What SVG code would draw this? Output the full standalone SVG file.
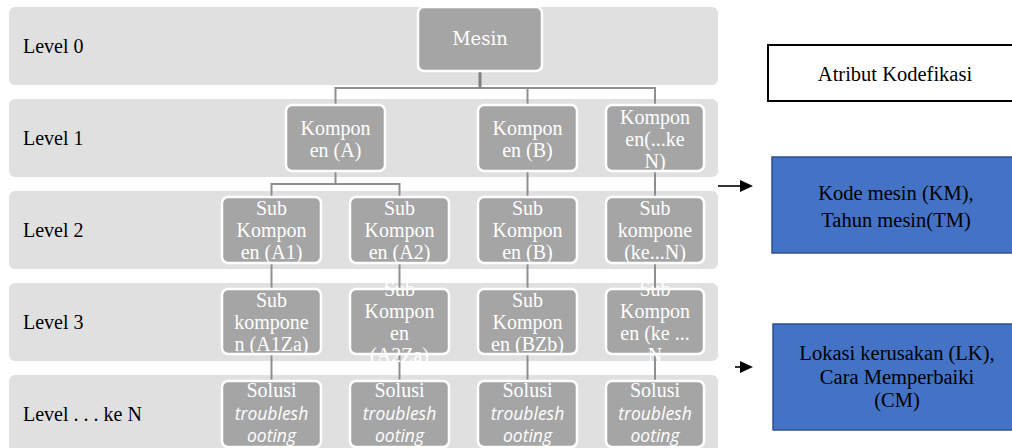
<svg xmlns="http://www.w3.org/2000/svg" width="1012" height="448" viewBox="0 0 1012 448">
<style>
.band{fill:#e0e0e0}
.lvl{font-family:'Liberation Serif','Times New Roman',Tinos,'DejaVu Serif',serif;font-size:20px;fill:#000}
.node rect{fill:#a5a5a5;stroke:#ffffff;stroke-width:2.5}
.nt{font-family:'Liberation Serif','Times New Roman',Tinos,'DejaVu Serif',serif;font-size:20px;fill:#ffffff;text-anchor:middle}
.it{font-family:'Open Sans',sans-serif;font-style:italic;font-size:17.5px;fill:#ffffff;text-anchor:middle}
.mesin{font-family:'DejaVu Serif',serif;font-size:18px;fill:#ffffff;text-anchor:middle}
.conn{stroke:#8f8f8f;stroke-width:2;fill:none}
.rt{font-family:'Liberation Serif','Times New Roman',Tinos,'DejaVu Serif',serif;font-size:20.5px;fill:#000;text-anchor:middle}
.blue{fill:#4472c4;stroke:#2f528f;stroke-width:1.5}
</style>
<g id="bands">
<rect class="band" x="9" y="7" width="709" height="78" rx="6"/>
<rect class="band" x="9" y="99" width="709" height="78" rx="6"/>
<rect class="band" x="9" y="191" width="709" height="78" rx="6"/>
<rect class="band" x="9" y="283" width="709" height="78" rx="6"/>
<rect class="band" x="9" y="375" width="709" height="78" rx="6"/>
<text class="lvl" x="23" y="53">Level 0</text>
<text class="lvl" x="23" y="145">Level 1</text>
<text class="lvl" x="23" y="237">Level 2</text>
<text class="lvl" x="23" y="329">Level 3</text>
<text class="lvl" x="23" y="421">Level . . . ke N</text>
</g>
<g id="connectors">
<line x1="480" y1="71" x2="480" y2="88" stroke="#7f7f7f" stroke-width="3"/>
<path class="conn" d="M335.5,105 V88 H655 V105 M527.5,88 V105"/>
<path class="conn" d="M335.5,171 V184 M271.5,197 V184 H399.5 V197"/>
<path class="conn" d="M527.5,171 V197 M655,171 V197"/>
<path class="conn" d="M271.5,263 V289 M399.5,263 V289 M527.5,263 V289 M655,263 V289"/>
<path class="conn" d="M271.5,354 V381 M399.5,354 V381 M527.5,354 V381 M655,354 V381"/>
</g>
<g id="n-mesin" class="node"><rect x="418" y="7" width="124" height="64" rx="6"/><text class="mesin" x="480" y="45">Mesin</text></g>
<g id="n-kA" class="node"><rect x="286" y="105" width="99" height="66" rx="6"/><text class="nt" x="335.5" y="135">Kompon</text><text class="nt" x="335.5" y="157">en (A)</text></g>
<g id="n-kB" class="node"><rect x="478" y="105" width="99" height="66" rx="6"/><text class="nt" x="527.5" y="135">Kompon</text><text class="nt" x="527.5" y="157">en (B)</text></g>
<g id="n-kN" class="node"><rect x="606" y="105" width="98" height="66" rx="6"/><text class="nt" x="655" y="124">Kompon</text><text class="nt" x="655" y="146">en(...ke</text><text class="nt" x="655" y="168">N)</text></g>
<g id="n-sA1" class="node"><rect x="222" y="197" width="99" height="66" rx="6"/><text class="nt" x="271.5" y="215">Sub</text><text class="nt" x="271.5" y="237">Kompon</text><text class="nt" x="271.5" y="259">en (A1)</text></g>
<g id="n-sA2" class="node"><rect x="350" y="197" width="99" height="66" rx="6"/><text class="nt" x="399.5" y="215">Sub</text><text class="nt" x="399.5" y="237">Kompon</text><text class="nt" x="399.5" y="259">en (A2)</text></g>
<g id="n-sB" class="node"><rect x="478" y="197" width="99" height="66" rx="6"/><text class="nt" x="527.5" y="215">Sub</text><text class="nt" x="527.5" y="237">Kompon</text><text class="nt" x="527.5" y="259">en (B)</text></g>
<g id="n-sN" class="node"><rect x="606" y="197" width="98" height="66" rx="6"/><text class="nt" x="655" y="215">Sub</text><text class="nt" x="655" y="237">kompone</text><text class="nt" x="655" y="259">(ke...N)</text></g>
<g id="n-A1Za" class="node"><rect x="222" y="289" width="99" height="65" rx="6"/><text class="nt" x="271.5" y="307">Sub</text><text class="nt" x="271.5" y="329">kompone</text><text class="nt" x="271.5" y="351">n (A1Za)</text></g>
<g id="n-A2Za" class="node"><rect x="350" y="289" width="99" height="65" rx="6"/><text class="nt" x="399.5" y="296">Sub</text><text class="nt" x="399.5" y="318">Kompon</text><text class="nt" x="399.5" y="340">en</text><text class="nt" x="399.5" y="362">(A2Za)</text></g>
<g id="n-BZb" class="node"><rect x="478" y="289" width="99" height="65" rx="6"/><text class="nt" x="527.5" y="307">Sub</text><text class="nt" x="527.5" y="329">Kompon</text><text class="nt" x="527.5" y="351">en (BZb)</text></g>
<g id="n-keN3" class="node"><rect x="606" y="289" width="98" height="65" rx="6"/><text class="nt" x="655" y="296">Sub</text><text class="nt" x="655" y="318">Kompon</text><text class="nt" x="655" y="340">en (ke ...</text><text class="nt" x="655" y="362">N</text></g>
<g id="n-sol1" class="node"><rect x="222" y="381" width="99" height="66" rx="6"/><text class="nt" x="271.5" y="397">Solusi</text><text class="it" x="271.5" y="420">troublesh</text><text class="it" x="271.5" y="442">ooting</text></g>
<g id="n-sol2" class="node"><rect x="350" y="381" width="99" height="66" rx="6"/><text class="nt" x="399.5" y="397">Solusi</text><text class="it" x="399.5" y="420">troublesh</text><text class="it" x="399.5" y="442">ooting</text></g>
<g id="n-sol3" class="node"><rect x="478" y="381" width="99" height="66" rx="6"/><text class="nt" x="527.5" y="397">Solusi</text><text class="it" x="527.5" y="420">troublesh</text><text class="it" x="527.5" y="442">ooting</text></g>
<g id="n-sol4" class="node"><rect x="606" y="381" width="98" height="66" rx="6"/><text class="nt" x="655" y="397">Solusi</text><text class="it" x="655" y="420">troublesh</text><text class="it" x="655" y="442">ooting</text></g>
<g id="n-atribut"><rect x="768" y="45" width="260" height="56" fill="#fff" stroke="#000" stroke-width="2"/><text class="rt" x="895" y="81">Atribut Kodefikasi</text></g>
<g id="n-km"><rect class="blue" x="772" y="157" width="260" height="96"/><text class="rt" x="896" y="200">Kode mesin (KM),</text><text class="rt" x="896" y="227">Tahun mesin(TM)</text></g>
<g id="n-lk"><rect class="blue" x="773" y="324" width="260" height="106"/><text class="rt" x="897" y="360">Lokasi kerusakan (LK),</text><text class="rt" x="897" y="384">Cara Memperbaiki</text><text class="rt" x="897" y="407">(CM)</text></g>
<g id="arrows">
<line x1="718" y1="186" x2="743" y2="186" stroke="#000" stroke-width="1.6"/>
<path d="M740,180 L753,186 L740,192 Z" fill="#000"/>
<line x1="735" y1="367" x2="743" y2="367" stroke="#000" stroke-width="1.6"/>
<path d="M740,361 L753,367 L740,373 Z" fill="#000"/>
</g>
</svg>
